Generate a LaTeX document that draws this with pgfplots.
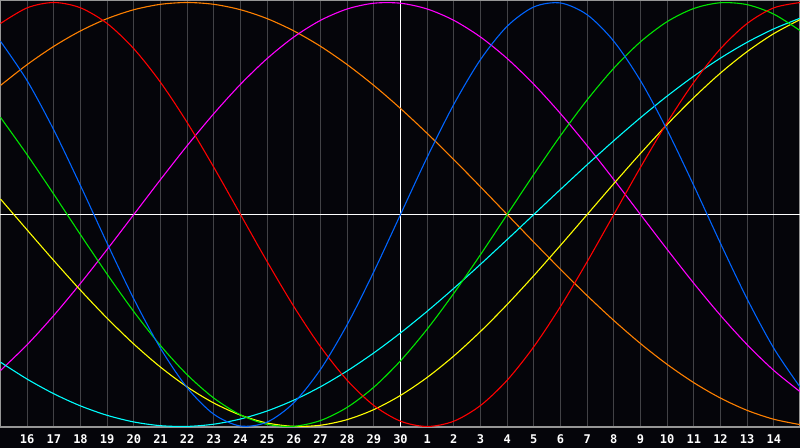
\documentclass[border=0pt]{standalone}
\usepackage{pgfplots}
\pgfplotsset{compat=1.18}
\usepackage{pgfplotstable}
\usepackage{fontspec}
\newfontfamily\labfont{DejaVu Sans Mono}
\definecolor{bg}{RGB}{5,5,10}
\definecolor{gridc}{RGB}{66,66,70}
\definecolor{framec}{RGB}{150,150,150}
\definecolor{cblue}{RGB}{0,100,255}
\definecolor{cred}{RGB}{255,0,0}
\definecolor{cgreen}{RGB}{0,230,0}
\definecolor{cmag}{RGB}{255,0,255}
\definecolor{cyel}{RGB}{255,255,0}
\definecolor{cora}{RGB}{255,128,0}
\definecolor{ccyan}{RGB}{0,255,255}
\pgfplotstableread{
t blue red green mag yel ora cyan
-15 0.8170 0.9010 0.4582 -0.7357 0.0730 0.6088 -0.6966
-14 0.6311 0.9749 0.2817 -0.6142 -0.0730 0.7071 -0.7765
-13 0.3984 1.0000 0.0951 -0.4759 -0.2174 0.7934 -0.8456
-12 0.1362 0.9749 -0.0951 -0.3247 -0.3572 0.8660 -0.9028
-11 -0.1362 0.9010 -0.2817 -0.1646 -0.4895 0.9239 -0.9473
-10 -0.3984 0.7818 -0.4582 0 -0.6112 0.9659 -0.9786
-9 -0.6311 0.6235 -0.6182 0.1646 -0.7199 0.9914 -0.9961
-8 -0.8170 0.4339 -0.7557 0.3247 -0.8133 1.0000 -0.9996
-7 -0.9423 0.2225 -0.8660 0.4759 -0.8893 0.9914 -0.9890
-6 -0.9977 0 -0.9450 0.6142 -0.9465 0.9659 -0.9646
-5 -0.9791 -0.2225 -0.9898 0.7357 -0.9834 0.9239 -0.9267
-4 -0.8879 -0.4339 -0.9989 0.8372 -0.9993 0.8660 -0.8757
-3 -0.7308 -0.6235 -0.9718 0.9158 -0.9940 0.7934 -0.8125
-2 -0.5196 -0.7818 -0.9097 0.9694 -0.9675 0.7071 -0.7378
-1 -0.2698 -0.9010 -0.8146 0.9966 -0.9203 0.6088 -0.6528
0 0 -0.9749 -0.6901 0.9966 -0.8533 0.5000 -0.5586
1 0.2698 -1.0000 -0.5407 0.9694 -0.7685 0.3827 -0.4566
2 0.5196 -0.9749 -0.3717 0.9158 -0.6673 0.2588 -0.3482
3 0.7308 -0.9010 -0.1893 0.8372 -0.5517 0.1305 -0.2349
4 0.8879 -0.7818 0 0.7357 -0.4245 0 -0.1183
5 0.9791 -0.6235 0.1893 0.6142 -0.2881 -0.1305 0
6 0.9977 -0.4339 0.3717 0.4759 -0.1456 -0.2588 0.1183
7 0.9423 -0.2225 0.5407 0.3247 0 -0.3827 0.2349
8 0.8170 0 0.6901 0.1646 0.1456 -0.5000 0.3482
9 0.6311 0.2225 0.8146 0 0.2881 -0.6088 0.4566
10 0.3984 0.4339 0.9097 -0.1646 0.4245 -0.7071 0.5586
11 0.1362 0.6235 0.9718 -0.3247 0.5517 -0.7934 0.6528
12 -0.1362 0.7818 0.9989 -0.4759 0.6673 -0.8660 0.7378
13 -0.3984 0.9010 0.9898 -0.6142 0.7685 -0.9239 0.8125
14 -0.6311 0.9749 0.9450 -0.7357 0.8533 -0.9659 0.8757
15 -0.8170 1.0000 0.8660 -0.8372 0.9203 -0.9914 0.9267
}\bio
\begin{document}
\begin{tikzpicture}
\fill[bg] (0,0) rectangle (400pt,224pt);
\begin{axis}[
  at={(0pt,10.5pt)}, anchor=south west,
  scale only axis, width=400pt, height=213.5pt,
  xmin=-15.01875, xmax=14.98125, ymin=-1.0023, ymax=1.0118,
  axis line style={framec, line width=0.7pt},
  xtick={-14,-13,-12,-11,-10,-9,-8,-7,-6,-5,-4,-3,-2,-1,0,1,2,3,4,5,6,7,8,9,10,11,12,13,14},
  xticklabels={16,17,18,19,20,21,22,23,24,25,26,27,28,29,30,1,2,3,4,5,6,7,8,9,10,11,12,13,14},
  ytick=\empty,
  major tick length=0pt,
  xmajorgrids,
  grid style={gridc, line width=0.5pt},
  xticklabel style={font={\labfont\bfseries\fontsize{6pt}{6pt}\selectfont}, text=white, anchor=base, yshift=-8.15pt},
  every axis plot/.append style={line width=0.55pt, smooth, no markers},
  clip=true,
]
\addplot[white, line width=0.5pt] coordinates {(-15.01875,0) (14.98125,0)};
\addplot[white, line width=0.5pt] coordinates {(0,-1.0023) (0,1.0118)};
\addplot[cora] table[x=t, y=ora] {\bio};
\addplot[cmag] table[x=t, y=mag] {\bio};
\addplot[ccyan] table[x=t, y=cyan] {\bio};
\addplot[cyel] table[x=t, y=yel] {\bio};
\addplot[cgreen] table[x=t, y=green] {\bio};
\addplot[cred] table[x=t, y=red] {\bio};
\addplot[cblue] table[x=t, y=blue] {\bio};
\end{axis}
\pgfresetboundingbox
\path[use as bounding box] (0,0) rectangle (400pt,224pt);
\end{tikzpicture}
\end{document}
